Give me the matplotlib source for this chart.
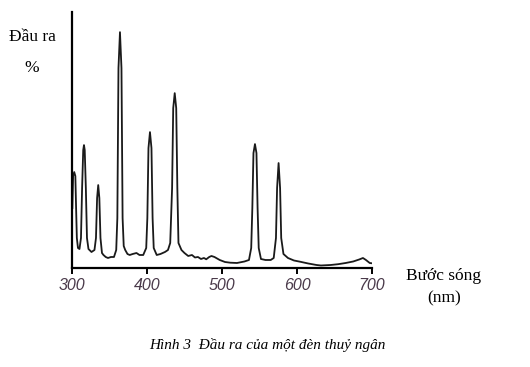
import matplotlib.pyplot as plt

# wavelength (nm) and relative output
wavelength = [300.5, 301.5, 303, 304.5, 305.5, 306.5, 308, 310, 312, 313.5, 315, 316, 317, 318.5,
              320, 322, 326, 330, 332, 333.5, 335, 336.5, 338, 340, 342, 345, 348, 352, 356,
              359, 360.5, 362, 364, 366, 367.5, 369, 371, 374, 377, 381, 386, 390, 395,
              399, 400.5, 402, 404, 406, 407.5, 409, 413, 418, 424, 428, 431, 433.5, 435,
              437, 439, 440.5, 442, 446, 450, 455, 460, 464, 468, 472, 476, 479, 483, 486,
              490, 497, 504, 511, 520, 530, 536, 539, 540.5, 542, 544, 546, 547.5, 549, 552,
              558, 565, 569, 572, 573.5, 575.5, 577.5, 579, 582, 588, 596, 604, 615, 626,
              632, 645, 655, 665, 675, 683, 688, 692, 697, 700]
output = [60, 92, 96, 92, 60, 30, 20, 19, 30, 80, 118, 123, 118, 80,
          30, 19, 16, 18, 30, 70, 83, 70, 30, 15, 13, 11, 10, 11, 11,
          18, 50, 200, 236, 200, 50, 22, 18, 14, 13, 14, 15, 13, 13,
          20, 50, 120, 136, 120, 50, 20, 13, 14, 16, 18, 25, 80, 160,
          175, 160, 80, 25, 18, 15, 12, 13, 10.5, 11, 9, 10, 8.7, 11, 12,
          11, 8, 6, 5.3, 5, 6.5, 8, 20, 60, 115, 124, 115, 60, 20, 9,
          8, 8, 10, 30, 80, 105, 80, 30, 14, 10, 7.5, 6.3, 4.5, 3,
          2.5, 3, 3.8, 5, 6.5, 8.5, 10, 8, 5, 4.7]

xticks = [300, 400, 500, 600, 700]

fig = plt.figure(figsize=(5.3, 3.67), dpi=100)
ax = fig.add_axes([0.1358, 0.2698, 0.566, 0.697])

ax.plot(wavelength, output, color='#1a1a1a', linewidth=1.3)

ax.set_xlim(300, 700)
ax.set_ylim(0, 256)
ax.spines['top'].set_visible(False)
ax.spines['right'].set_visible(False)
ax.spines['left'].set_linewidth(1.6)
ax.spines['bottom'].set_linewidth(1.6)
ax.set_yticks([])
ax.set_xticks(xticks)
ax.set_xticklabels([str(t) for t in xticks], fontfamily='Liberation Sans',
                   fontstyle='italic', fontsize=11.5, color='#4a3a4a')
ax.tick_params(axis='x', direction='out', length=4, width=1.4, pad=3)

serif = 'Liberation Serif'
fig.text(32 / 530, 1 - 37 / 367, 'Đầu ra', ha='center', va='center',
         fontfamily=serif, fontsize=12.5)
fig.text(32 / 530, 1 - 68 / 367, '%', ha='center', va='center',
         fontfamily=serif, fontsize=12.5)
fig.text(444 / 530, 1 - 276 / 367, 'Bước sóng', ha='center', va='center',
         fontfamily=serif, fontsize=12.5)
fig.text(444 / 530, 1 - 298 / 367, '(nm)', ha='center', va='center',
         fontfamily=serif, fontsize=12.5)
fig.text(267 / 530, 1 - 345 / 367, 'Hình 3  Đầu ra của một đèn thuỷ ngân',
         ha='center', va='center', fontfamily=serif, fontstyle='italic', fontsize=11)

fig.savefig('out.png', dpi=100)
